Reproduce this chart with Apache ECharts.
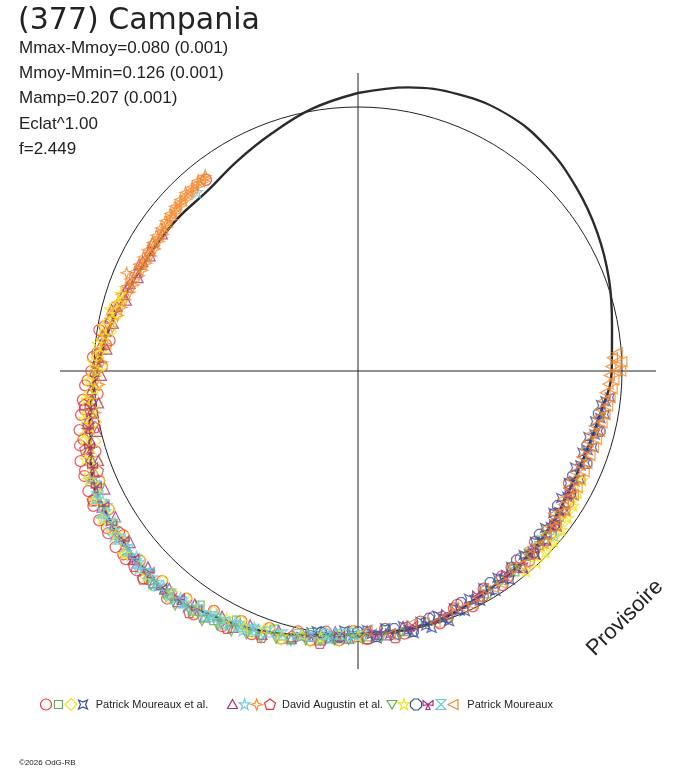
<!DOCTYPE html>
<html><head><meta charset="utf-8">
<script src="https://cdn.jsdelivr.net/npm/echarts@6/dist/echarts.min.js"></script>
<style>html,body{margin:0;padding:0;background:#fff}#c{width:688px;height:768px}</style>
</head><body><div id="c"></div>
<script>
// ---- fitted light curve (phase in degrees, radius relative to mean circle = 1) ----
const fitPhase  = [0,10,20,30,40,50,60,70,80,90,100,110,120,130,140,150,160,170,180,190,200,210,220,230,240,250,260,270,280,290,300,310,320,330,340,350,360];
const fitRadius = [1.053,1.091,1.115,1.125,1.110,1.080,1.047,1.012,0.977,0.961,0.932,0.917,0.920,0.939,0.955,0.966,0.989,0.996,0.996,1.015,1.049,1.076,1.106,1.102,1.095,1.076,1.030,0.989,0.955,0.922,0.903,0.895,0.889,0.917,0.957,1.008,1.053];
const meanCircle = 1;

// ---- text ----
const titleText = '(377) Campania';
const infoLines = ['Mmax-Mmoy=0.080 (0.001)','Mmoy-Mmin=0.126 (0.001)','Mamp=0.207 (0.001)','Eclat^1.00','f=2.449'];
const groupLabels = ['Patrick Moureaux et al.','David Augustin et al.','Patrick Moureaux'];
const watermark = 'Provisoire';
const copyright = '\u00A92026 OdG-RB';

// ---- observations [phase, radius] ----
const obsPMa_circle = [[280,0.975],[279,0.992],[277,0.948],[276,0.960],[274,0.990],[273,1.005],[271,0.970],[270,1.010],[268,1.025],[267,1.035],[265,0.990],[264,1.048],[262,1.045],[261,1.062],[259,1.020],[258,1.078],[256,1.072],[255,1.090],[253,1.040],[252,1.105],[250,1.100],[249,1.110],[247,1.065],[246,1.118],[244,1.115],[243,1.125],[241,1.080],[240,1.132],[238,1.122],[237,1.128],[235,1.085],[234,1.135],[232,1.128],[231,1.132],[229,1.095],[228,1.128],[226,1.130],[225,1.118],[223,1.088],[220,1.125],[217,1.080],[214,1.112],[211,1.060],[208,1.095],[205,1.045],[202,1.075],[199,1.030],[196,1.055],[193,1.012],[190,1.035],[187,0.995],[184,1.022],[181,0.985],[178,1.015],[174,0.982],[170,1.010],[166,0.978],[163,0.975],[162,1.005],[158,0.970],[157,0.962],[154,0.992],[151,0.975],[150,0.952],[146,0.978],[145,0.950],[142,0.945],[139,0.940],[138,0.968],[134,0.932],[130,0.955],[126,0.920],[122,0.940],[118,0.905],[321.5,0.925]];
const obsPMa_square = [[214,1.070],[210,1.092],[206,1.050],[202,1.068],[198,1.028],[194,1.048],[190,1.005],[186,1.020],[182,0.990],[178,1.008],[174,0.985],[170,1.002],[165,0.985],[160,0.995],[150,0.975],[146,0.955],[142,0.965],[138,0.945],[134,0.952],[130,0.935],[126,0.942]];
const obsPMa_diamond = [[285,0.952],[283,0.935],[281,0.965],[279,0.948],[277,0.978],[275,0.958],[273,0.992],[271,0.968],[269,1.005],[267,0.985],[265,1.025],[263,0.998],[261,1.040],[259,1.012],[257,1.058],[255,1.030],[253,1.070],[251,1.048],[249,1.090],[247,1.062],[244,1.105],[241,1.075],[238,1.115],[235,1.082],[232,1.120],[229,1.090],[226,1.118],[223,1.085],[220,1.120],[217,1.078],[214,1.105],[211,1.062],[208,1.088],[205,1.045],[202,1.070],[199,1.030],[196,1.058],[193,1.015],[190,1.040],[187,1.000],[184,1.025],[181,0.985],[135,0.985],[132,0.982],[129,0.975],[126,0.968],[123,0.960],[120,0.952]];
const obsPMa_cross = [[96,0.960],[97,0.945],[98,0.930],[100,0.950],[101,0.935],[102,0.918],[104,0.940],[105,0.928],[106,0.908],[108,0.935],[109,0.920],[110,0.905],[112,0.930],[113,0.915],[114,0.900],[116,0.935],[117,0.920],[118,0.905],[120,0.938],[121,0.925],[122,0.908],[124,0.945],[125,0.932],[126,0.915],[128,0.955],[129,0.940],[130,0.925],[132,0.960],[133,0.948],[134,0.932],[136,0.968],[137,0.952],[138,0.938],[140,0.972],[141,0.958],[142,0.942],[144,0.978],[145,0.962],[146,0.945],[148,0.982],[149,0.968],[150,0.950],[152,0.985],[153,0.975],[154,0.960],[156,0.995],[157,0.985],[158,0.970],[160,1.008],[161,0.992],[162,0.975],[164,1.012],[165,0.998],[166,0.980],[168,1.015],[169,1.000],[170,0.982],[172,1.012],[173,1.002],[174,0.980],[176,1.015],[177,0.998],[178,0.982],[180,1.012],[181,1.000],[183,0.985],[185,1.008],[186,1.020],[189,0.998],[192,1.030]];
const obsDA_triangle = [[305,0.905],[302,0.918],[300,0.912],[299,0.900],[297,0.915],[296,0.922],[294,0.918],[293,0.905],[291,0.925],[290,0.930],[288,0.935],[287,0.918],[285,0.945],[284,0.962],[282,0.962],[281,0.945],[279,0.968],[278,0.978],[276,0.978],[275,0.955],[273,0.985],[272,0.992],[270,0.998],[269,0.972],[267,1.000],[266,1.012],[264,1.015],[263,0.990],[261,1.022],[260,1.035],[258,1.038],[257,1.015],[255,1.045],[254,1.060],[252,1.065],[251,1.040],[249,1.070],[248,1.082],[245,1.058],[242,1.098],[239,1.072],[236,1.105],[233,1.080],[230,1.112],[227,1.088],[224,1.115],[221,1.090],[218,1.108],[215,1.078],[212,1.098],[209,1.062],[206,1.080],[203,1.045],[200,1.062],[197,1.028],[194,1.045],[191,1.010],[188,1.028],[185,0.992],[182,1.012],[178,0.985],[174,1.005],[170,0.982],[140,0.972],[136,0.962],[132,0.958],[128,0.952],[124,0.940]];
const obsDA_star = [[250,1.065],[248,1.095],[247,1.080],[246,1.072],[245,1.090],[244,1.105],[243,1.085],[242,1.080],[241,1.095],[240,1.112],[239,1.100],[238,1.085],[237,1.095],[236,1.118],[235,1.105],[234,1.090],[233,1.100],[232,1.115],[231,1.108],[230,1.095],[229,1.102],[228,1.120],[227,1.108],[226,1.098],[225,1.105],[224,1.122],[223,1.112],[222,1.100],[221,1.105],[220,1.115],[219,1.108],[218,1.092],[217,1.098],[216,1.105],[215,1.095],[214,1.080],[213,1.088],[212,1.098],[211,1.082],[210,1.070],[209,1.078],[208,1.088],[207,1.070],[206,1.058],[205,1.062],[204,1.075],[203,1.058],[202,1.048],[201,1.052],[200,1.062],[197,1.035],[194,1.048],[191,1.015],[189,1.010],[188,1.025],[187,1.002],[186,1.018],[185,0.998],[184,1.005],[182,1.010],[179,0.990],[176,1.002],[130,0.972],[318,0.912]];
const obsDA_star4 = [[322,0.940],[321.5,0.932],[321,0.925],[320,0.942],[319.5,0.934],[319,0.926],[318,0.938],[317.5,0.930],[317,0.922],[316,0.940],[315.5,0.930],[315,0.920],[314,0.935],[313.5,0.926],[313,0.918],[312,0.932],[311.5,0.922],[311,0.915],[310,0.928],[309.5,0.918],[309,0.912],[308,0.925],[307.5,0.915],[307,0.905],[306,0.922],[305.5,0.912],[305,0.902],[304,0.920],[303.5,0.910],[303,0.900],[302,0.918],[301.5,0.908],[301,0.898],[300,0.918],[299.5,0.908],[299,0.898],[298,0.920],[297.5,0.910],[297,0.900],[296,0.922],[295.5,0.912],[295,0.902],[294,0.925],[293.5,0.905],[293,0.952],[292,0.930],[291.5,0.920],[291,0.910],[290,0.935],[289,0.915],[288,0.940],[287,0.922],[286,0.946],[285,0.928],[284,0.952],[283,0.935],[282,0.958],[280,0.945],[278,0.975],[276,0.958],[274,0.990],[272,0.970],[270,1.002],[267,0.982],[264,1.028],[261,1.008],[258,1.048]];
const obsDA_pentagon = [[263,1.045],[258,1.020],[254,1.075],[249,1.055],[244,1.118],[236,1.090],[229,1.125],[226,1.132],[220,1.100],[215,1.115],[207,1.092],[200,1.072],[194,1.035],[188,1.040],[178,1.012],[172,1.018]];
const obsPM_invtri = [[224,1.128],[221,1.118],[218,1.125],[215,1.110],[212,1.115],[209,1.100],[206,1.095],[203,1.082],[200,1.075],[197,1.060],[194,1.052],[191,1.038],[188,1.030],[185,1.022],[182,1.018],[179,1.015],[175,1.012],[171,1.010],[142,0.960],[137,0.952],[133,0.945]];
const obsPM_star = [[288,0.945],[286,0.940],[284,0.968],[282,0.952],[280,0.980],[278,0.968],[276,0.992],[274,0.980],[272,1.005],[270,0.985],[268,1.020],[266,1.000],[264,1.035],[262,1.018],[260,1.052],[258,1.035],[256,1.068],[254,1.052],[252,1.085],[250,1.065],[248,1.100],[246,1.078],[244,1.112],[242,1.088],[240,1.120],[238,1.092],[236,1.108],[234,1.098],[232,1.125],[226,1.112],[220,1.095],[214,1.090],[208,1.062],[204,1.058],[200,1.040],[196,1.045],[192,1.022],[188,1.020],[184,1.002],[180,1.005],[140,0.990],[137,0.992],[134,0.988],[131,0.985],[128,0.978],[125,0.970],[122,0.962],[119,0.952],[116,0.945]];
const obsPM_octagon = [[100,0.925],[104,0.945],[108,0.912],[112,0.935],[116,0.905],[120,0.930],[124,0.912],[128,0.945],[132,0.925],[136,0.958],[140,0.935],[144,0.968],[148,0.945],[152,0.978],[156,0.960],[160,0.995],[164,0.975],[168,1.008],[172,0.985],[176,1.008],[180,0.988],[184,1.012],[188,1.000]];
const obsPM_fan = [[262,1.025],[258,1.045],[254,1.058],[250,1.070],[246,1.085],[242,1.090],[238,1.100],[234,1.095],[230,1.108],[226,1.100],[222,1.112],[218,1.098],[214,1.092],[190,1.020],[184,1.008],[176,1.000],[168,0.988],[160,0.982],[152,0.965],[144,0.958],[136,0.955],[128,0.945],[120,0.928]];
const obsPM_hourglass = [[244,1.100],[241,1.108],[238,1.098],[235,1.110],[232,1.102],[229,1.112],[226,1.105],[223,1.110],[220,1.102],[217,1.100],[214,1.092],[211,1.085],[208,1.078],[205,1.068],[202,1.058],[199,1.045],[196,1.040],[193,1.025],[190,1.018],[187,1.005],[184,1.000],[181,0.995]];
const obsPM_lefttri = [[86,0.985],[87,0.965],[88,1.000],[88,0.978],[89,0.958],[90,0.995],[90,0.975],[91,0.952],[92,0.970],[93,0.948],[94,0.965],[95,0.940],[96,0.960],[97,0.935],[98,0.955],[99,0.930],[100,0.950],[101,0.925],[102,0.945],[103,0.920],[104,0.942],[105,0.915],[106,0.940],[107,0.912],[108,0.938],[109,0.910],[110,0.935],[111,0.908],[112,0.935],[113,0.910],[114,0.938],[115,0.905],[116,0.935],[117,0.910],[118,0.940],[119,0.912],[120,0.942],[121,0.930],[122,0.915],[123,0.928],[124,0.945],[125,0.935],[126,0.920],[127,0.938],[128,0.952],[129,0.942],[130,0.928],[131,0.945],[133,0.958],[134,0.948],[136,0.935],[137,0.952],[139,0.965],[140,0.958],[142,0.942],[144,0.962],[146,0.970],[148,0.968],[150,0.952],[152,0.972],[154,0.985],[156,0.982],[158,0.965],[160,0.988],[163,0.998],[168,0.978],[173,1.005],[178,0.985]];

const RED='#e8363c', GREEN='#5fb346', YELLOW='#f3e31a', BLUE='#3b4ea0', PURPLE='#a63279', CYAN='#6ccbd9', ORANGE='#f2892f';
// symbol outlines in a 10x10 box (list of polygons); 'circle' handled separately
const SHAPES = {
  rect:[[[0,0],[10,0],[10,10],[0,10]]],
  diamond:[[[5,0],[10,5],[5,10],[0,5]]],
  cross:[[[0,0],[5,2.2],[10,0],[7.8,5],[10,10],[5,7.8],[0,10],[2.2,5]]],
  triangle:[[[5,0],[10,9],[0,9]]],
  star:[[[5,0],[6.2,3.6],[10,3.6],[7,5.9],[8.1,9.5],[5,7.3],[1.9,9.5],[3,5.9],[0,3.6],[3.8,3.6]]],
  star4:[[[5,0],[6.3,3.7],[10,5],[6.3,6.3],[5,10],[3.7,6.3],[0,5],[3.7,3.7]]],
  pentagon:[[[5,0],[10,3.6],[8.1,9.5],[1.9,9.5],[0,3.6]]],
  invtri:[[[0,1],[10,1],[5,9.5]]],
  octagon:[[[3,0],[7,0],[10,3],[10,7],[7,10],[3,10],[0,7],[0,3]]],
  fan:[[[5,5],[0,1],[0,6]],[[5,5],[10,1],[10,6]],[[5,5],[3,10],[7,10]]],
  hourglass:[[[0,0],[10,0],[5,5],[10,10],[0,10],[5,5]]],
  lefttri:[[[0,5],[10,0],[10,10]]]
};
const symbolOf = k => k === 'circle' ? 'circle' :
  'path://' + SHAPES[k].map(poly => poly.map((p,j) => (j ? 'L' : 'M') + p[0] + ',' + p[1]).join(' ') + ' Z').join(' ');

const obsSeries = [
  {name:'PMa-1', data:obsPMa_circle,   color:RED,    sym:'circle',   size:11, lsize:11, group:0},
  {name:'PMa-2', data:obsPMa_square,   color:GREEN,  sym:'rect',     size:8,  lsize:8,  group:0},
  {name:'PMa-3', data:obsPMa_diamond,  color:YELLOW, sym:'diamond',  size:11, lsize:12, group:0},
  {name:'PMa-4', data:obsPMa_cross,    color:BLUE,   sym:'cross',    size:9,  lsize:9,  group:0},
  {name:'DA-1',  data:obsDA_triangle,  color:PURPLE, sym:'triangle', size:10, lsize:10, group:1},
  {name:'DA-2',  data:obsDA_star,      color:CYAN,   sym:'star',     size:11, lsize:11, group:1},
  {name:'DA-3',  data:obsDA_star4,     color:ORANGE, sym:'star4',    size:11, lsize:11, group:1},
  {name:'DA-4',  data:obsDA_pentagon,  color:RED,    sym:'pentagon', size:11, lsize:11, group:1},
  {name:'PM-1',  data:obsPM_invtri,    color:GREEN,  sym:'invtri',   size:10, lsize:10, group:2},
  {name:'PM-2',  data:obsPM_star,      color:YELLOW, sym:'star',     size:11, lsize:11, group:2},
  {name:'PM-3',  data:obsPM_octagon,   color:BLUE,   sym:'octagon',  size:10, lsize:11, group:2},
  {name:'PM-4',  data:obsPM_fan,       color:PURPLE, sym:'fan',      size:10, lsize:10, group:2},
  {name:'PM-5',  data:obsPM_hourglass, color:CYAN,   sym:'hourglass',size:10, lsize:10, group:2},
  {name:'PM-6',  data:obsPM_lefttri,   color:ORANGE, sym:'lefttri',  size:10, lsize:10, group:2}
];

const FONT = '"Liberation Sans", Arial, sans-serif';
const chart = echarts.init(document.getElementById('c'), null, {renderer:'canvas'});

// legend drawn as graphic elements (icon centres, text start)
const legendIconX = [46,58.5,71,83, 232.5,244.6,256.7,270, 392,404,416,428,441,453];
const legendTextX = [95.7, 282, 467.3];
const legendY = 704.5;
const legendGraphics = [];
obsSeries.forEach((s,i) => {
  const cx = legendIconX[i], sz = s.lsize;
  if (s.sym === 'circle') {
    legendGraphics.push({type:'circle', shape:{cx:cx, cy:legendY, r:sz/2}, style:{fill:'none', stroke:s.color, lineWidth:1.2}});
  } else {
    SHAPES[s.sym].forEach(poly => {
      legendGraphics.push({type:'polygon',
        shape:{points: poly.map(p => [cx - sz/2 + p[0]*sz/10, legendY - sz/2 + p[1]*sz/10])},
        style:{fill:'none', stroke:s.color, lineWidth:1.2}});
    });
  }
});
groupLabels.forEach((t,g) => {
  legendGraphics.push({type:'text', x:legendTextX[g], y:legendY, style:{text:t, font:'11px '+FONT, fill:'#222', verticalAlign:'middle'}});
});

const option = {
  animation:false,
  backgroundColor:'#fff',
  polar:[{center:[358,371], radius:298},{center:[358,371], radius:264}],
  angleAxis:[
    {polarIndex:0, type:'value', min:0, max:360, interval:90, startAngle:90, clockwise:true,
     axisLine:{show:false}, axisTick:{show:false}, axisLabel:{show:false},
     splitLine:{show:true, lineStyle:{color:'#222', width:1}}},
    {polarIndex:1, type:'value', min:0, max:360, interval:90, startAngle:90, clockwise:true,
     axisLine:{show:true, lineStyle:{color:'#222', width:1}}, axisTick:{show:false}, axisLabel:{show:false},
     splitLine:{show:false}}
  ],
  radiusAxis:[
    {polarIndex:0, type:'value', min:0, max:298/264, axisLine:{show:false}, axisTick:{show:false}, axisLabel:{show:false}, splitLine:{show:false}},
    {polarIndex:1, type:'value', min:0, max:meanCircle, axisLine:{show:false}, axisTick:{show:false}, axisLabel:{show:false}, splitLine:{show:false}}
  ],
  series:[
    {type:'line', name:'fit', coordinateSystem:'polar', polarIndex:0, smooth:0.4, showSymbol:false, clip:false,
     lineStyle:{color:'#2b2b2b', width:2.4}, z:2,
     data: fitPhase.map((p,i) => [fitRadius[i], p])}
  ].concat(obsSeries.map(s => ({
    type:'scatter', name:s.name, coordinateSystem:'polar', polarIndex:0, clip:false, z:3,
    symbol:symbolOf(s.sym), symbolSize:s.size,
    itemStyle:{color:'rgba(0,0,0,0)', borderColor:s.color, borderWidth:1.25},
    data: s.data.map(d => [d[1], d[0]])
  }))),
  graphic:[
    {type:'text', left:18, top:6, style:{text:titleText, font:'30px "DejaVu Sans", sans-serif', fill:'#222'}},
  ].concat(infoLines.map((t,i) => ({type:'text', left:19, top:39.5 + i*25.4, style:{text:t, font:'17px '+FONT, fill:'#222'}})))
   .concat([
    {type:'text', x:625, y:618, rotation:Math.PI/4, style:{text:watermark, font:'22px '+FONT, fill:'#222', align:'center', verticalAlign:'middle'}},
    {type:'text', x:19, y:763, style:{text:copyright, font:'8px '+FONT, fill:'#222', verticalAlign:'middle'}}
  ]).concat(legendGraphics)
};
chart.setOption(option);
</script>
</body></html>
